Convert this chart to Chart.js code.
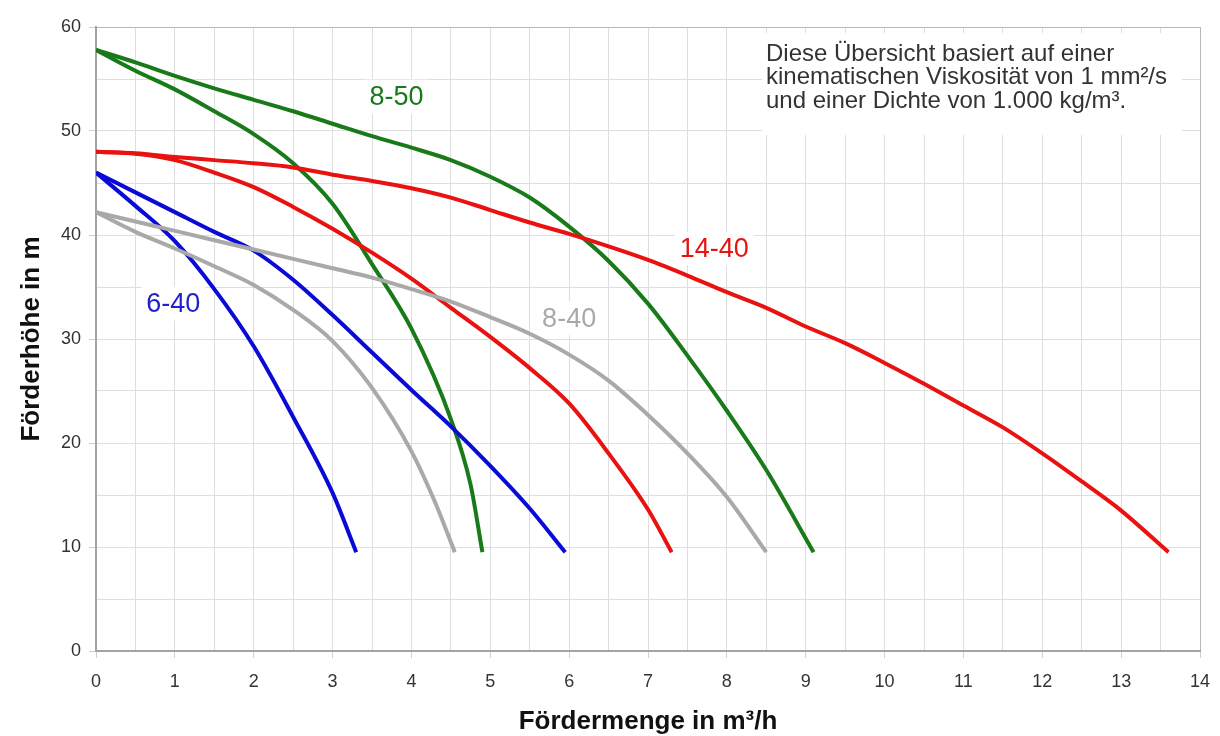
<!DOCTYPE html>
<html><head><meta charset="utf-8">
<script src="https://cdn.jsdelivr.net/npm/chart.js@4.4.1/dist/chart.umd.min.js"></script>
<style>html,body{margin:0;padding:0;background:#fff}#wrap{width:1220px;height:736px;position:relative}</style>
</head><body><div id="wrap"><canvas id="c"></canvas></div>
<script>
// ---- data (Q in m³/h, H in m) ----
const q640a = [0, 0.5, 1, 1.5, 2, 2.5, 3, 3.3];
const h640a = [46, 42.8, 39.4, 34.8, 29.3, 22.5, 15.2, 9.5];
const q640b = [0, 0.5, 1, 1.5, 2, 2.5, 3, 3.5, 4, 4.5, 5, 5.5, 5.95];
const h640b = [46, 44.1, 42.2, 40.3, 38.5, 35.7, 32.3, 28.7, 25.1, 21.6, 17.8, 13.7, 9.5];
const q840a = [0, 0.5, 1, 1.5, 2, 2.5, 3, 3.5, 4, 4.3, 4.55];
const h840a = [42.2, 40.3, 38.7, 37.0, 35.2, 32.8, 29.8, 25.3, 19.2, 14.3, 9.5];
const q840b = [0, 0.5, 1, 1.5, 2, 2.5, 3, 3.5, 4, 4.5, 5, 5.5, 6, 6.5, 7, 7.5, 8, 8.5];
const h840b = [42.2, 41.3, 40.4, 39.5, 38.6, 37.7, 36.8, 35.9, 34.8, 33.6, 32.1, 30.5, 28.5, 26.0, 22.7, 19.0, 14.8, 9.5];
const q1440a = [0, 0.5, 1, 1.5, 2, 2.5, 3, 3.5, 4, 4.5, 5, 5.5, 6, 6.5, 7, 7.3];
const h1440a = [48, 47.8, 47.2, 46.0, 44.6, 42.7, 40.6, 38.3, 35.8, 33.0, 30.2, 27.2, 23.8, 19.0, 13.6, 9.5];
const q1440b = [0, 0.5, 1, 1.5, 2, 2.5, 3, 3.5, 4, 4.5, 5, 5.5, 6, 6.5, 7, 7.5, 8, 8.5, 9, 9.5, 10, 10.5, 11, 11.5, 12, 12.5, 13, 13.6];
const h1440b = [48, 47.85, 47.5, 47.2, 46.9, 46.5, 45.8, 45.2, 44.5, 43.6, 42.4, 41.2, 40.1, 38.9, 37.6, 36.1, 34.5, 33.0, 31.2, 29.6, 27.7, 25.7, 23.6, 21.5, 19.0, 16.3, 13.5, 9.5];
const q850a = [0, 0.5, 1, 1.5, 2, 2.5, 3, 3.5, 4, 4.5, 4.75, 4.9];
const h850a = [57.8, 55.8, 54.0, 51.9, 49.7, 46.9, 43.0, 37.2, 31.0, 22.3, 16.0, 9.5];
const q850b = [0, 0.5, 1, 1.5, 2, 2.5, 3, 3.5, 4, 4.5, 5, 5.5, 6, 6.5, 7, 7.5, 8, 8.5, 9.1];
const h850b = [57.8, 56.6, 55.3, 54.1, 53.0, 51.9, 50.7, 49.5, 48.4, 47.2, 45.6, 43.6, 40.8, 37.5, 33.4, 28.4, 23.1, 17.4, 9.5];

const curveLabels = ['8-50', '14-40', '8-40', '6-40'];
const labelQ = [3.81, 7.84, 6.0, 0.98];
const labelH = [53.3, 38.7, 32.0, 33.4];

const noteLines = ['Diese Übersicht basiert auf einer', 'kinematischen Viskosität von 1 mm²/s', 'und einer Dichte von 1.000 kg/m³.'];

const BLUE = '#0a0ad6', GRAY = '#a9a9a9', RED = '#ea1111', GREEN = '#187a18';
const labelColors = [GREEN, RED, GRAY, '#1f1fd0'];

function pts(xs, ys) { return xs.map((x, i) => ({x: x, y: ys[i]})); }
function ds(xs, ys, color) {
  return {data: pts(xs, ys), borderColor: color, backgroundColor: color, showLine: true,
          pointRadius: 0, borderWidth: 4, cubicInterpolationMode: 'monotone', fill: false};
}

const FONT = "'Liberation Sans', Arial, Helvetica, sans-serif";

const labelPlugin = {
  id: 'labels',
  beforeDatasetsDraw(chart) {
    const ctx = chart.ctx, xs = chart.scales.x, ys = chart.scales.y;
    ctx.save();
    ctx.font = '27px ' + FONT;
    ctx.textAlign = 'center';
    ctx.textBaseline = 'middle';
    curveLabels.forEach((t, i) => {
      const px = xs.getPixelForValue(labelQ[i]), py = ys.getPixelForValue(labelH[i]);
      const w = ctx.measureText(t).width;
      ctx.fillStyle = '#fff';
      ctx.fillRect(px - w / 2 - 5, py - 17, w + 10, 34);
      ctx.fillStyle = labelColors[i];
      ctx.fillText(t, px, py + 1);
    });
    // note box
    const ca = chart.chartArea;
    const left = ca.right - 434, top = ca.top + 10;
    ctx.fillStyle = '#fff';
    ctx.fillRect(left - 4, top - 4, 420, 102);
    ctx.font = '24px ' + FONT;
    ctx.textAlign = 'left';
    ctx.fillStyle = '#333';
    noteLines.forEach((t, i) => ctx.fillText(t, left, top + 17 + i * 23.5));
    ctx.restore();
  }
};

new Chart(document.getElementById('c'), {
  type: 'scatter',
  data: {
    datasets: [
      ds(q840a, h840a, GRAY), ds(q840b, h840b, GRAY),
      ds(q640a, h640a, BLUE), ds(q640b, h640b, BLUE),
      ds(q1440a, h1440a, RED), ds(q1440b, h1440b, RED),
      ds(q850a, h850a, GREEN), ds(q850b, h850b, GREEN)
    ]
  },
  options: {
    responsive: true, maintainAspectRatio: false, animation: false,
    layout: {padding: {left: 0, right: 20, top: 27, bottom: 0}},
    plugins: {legend: {display: false}, tooltip: {enabled: false}},
    scales: {
      x: {
        type: 'linear', min: 0, max: 14,
        afterFit(s) { s.height = 85; s.paddingLeft = 0; s.paddingRight = 0; },
        ticks: {stepSize: 0.5, autoSkip: false, maxRotation: 0, padding: 13,
                color: '#333', font: {size: 18, family: FONT},
                callback: v => Number.isInteger(v) ? String(v) : ''},
        grid: {color: c => (c.tick && c.tick.value === 14) ? '#b8b8b8' : '#dedede', lineWidth: 1,
               tickLength: 7, tickColor: c => (c.tick && Number.isInteger(c.tick.value)) ? '#d0d0d0' : 'rgba(0,0,0,0)'},
        border: {color: '#a3a3a3', width: 2},
        title: {display: true, text: 'Fördermenge in m³/h', color: '#111',
                font: {size: 26, weight: 'bold', family: FONT, lineHeight: 1}, padding: {top: 0, bottom: 1}}
      },
      y: {
        type: 'linear', min: 0, max: 60,
        afterFit(s) { s.width = 96; s.paddingTop = 0; s.paddingBottom = 0; },
        ticks: {stepSize: 5, autoSkip: false, padding: 8,
                color: '#333', font: {size: 18, family: FONT},
                callback: v => (v % 10 === 0) ? String(v) : ''},
        grid: {color: c => (c.tick && c.tick.value === 60) ? '#b8b8b8' : '#dedede', lineWidth: 1,
               tickLength: 7, tickColor: c => (c.tick && c.tick.value % 10 === 0) ? '#d0d0d0' : 'rgba(0,0,0,0)'},
        border: {color: '#a3a3a3', width: 2},
        title: {display: true, text: 'Förderhöhe in m', color: '#111',
                font: {size: 26, weight: 'bold', family: FONT, lineHeight: 1}, padding: {top: 19, bottom: 0}}
      }
    }
  },
  plugins: [labelPlugin]
});
</script></body></html>
